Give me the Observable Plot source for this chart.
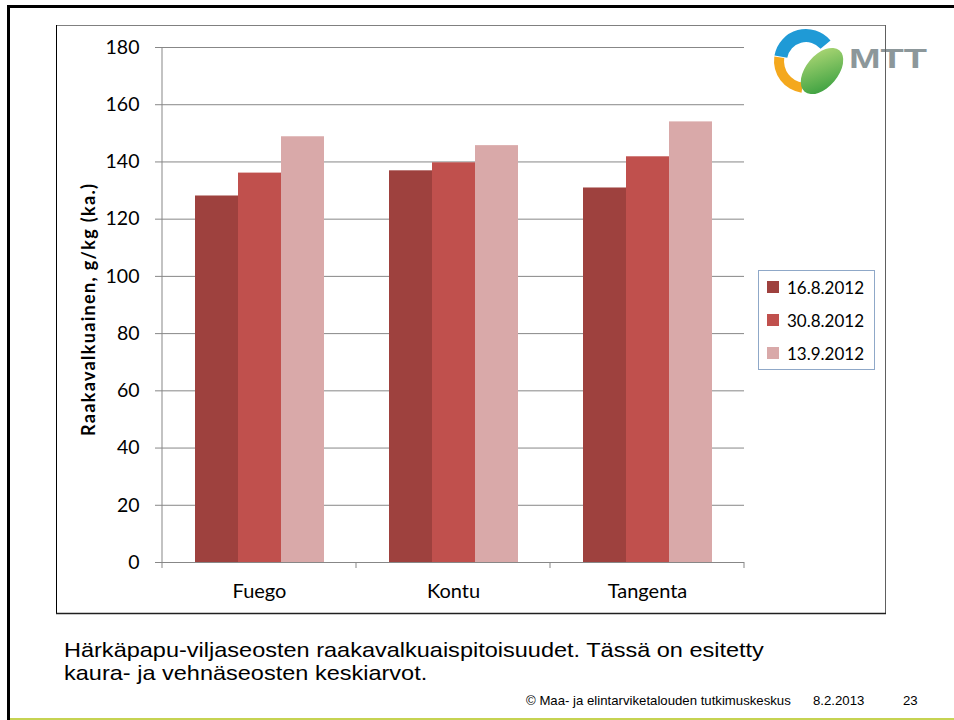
<!DOCTYPE html>
<html>
<head>
<meta charset="utf-8">
<script src="https://cdn.jsdelivr.net/npm/d3@7"></script>
<script src="https://cdn.jsdelivr.net/npm/@observablehq/plot@0.6"></script>
<style>
  html, body { margin: 0; padding: 0; background: #fff; }
  #page { position: relative; width: 954px; height: 720px; overflow: hidden; background: #fff; }
  #chart { position: absolute; left: 56px; top: 25px; width: 829px; height: 589px; }
  #overlay { position: absolute; left: 0; top: 0; pointer-events: none; }
  #legend { position: absolute; left: 758px; top: 270px; width: 117px; height: 100px; box-sizing: border-box;
            border: 1px solid #8FA8C8; background: #fff; font-family: Lato, sans-serif; font-size: 17px; }
  .lg-row { position: absolute; left: 8px; display: flex; align-items: center; height: 20px; }
  .lg-sw { width: 12px; height: 12px; margin-right: 8px; }
</style>
</head>
<body>
<div id="page">
  <div id="chart"></div>
  <div id="legend"></div>
  <svg id="overlay" width="954" height="720"></svg>
</div>
<script>
// ---- data ----
const categories = ["Fuego", "Kontu", "Tangenta"];
const series = ["16.8.2012", "30.8.2012", "13.9.2012"];
const values_16_8 = [128.1, 136.9, 130.9];
const values_30_8 = [136.1, 139.7, 141.8];
const values_13_9 = [148.8, 145.7, 154.0];
const yTicks = [0, 20, 40, 60, 80, 100, 120, 140, 160, 180];
const seriesColors = ["#9E413E", "#C0504D", "#D9A9A9"];

const yTitle = "Raakavalkuainen, g/kg (ka.)";
const captionLines = [
  "Härkäpapu-viljaseosten raakavalkuaispitoisuudet. Tässä on esitetty",
  "kaura- ja vehnäseosten keskiarvot."
];
const footerOrg = "© Maa- ja elintarviketalouden tutkimuskeskus";
const footerDate = "8.2.2013";
const footerPage = "23";

const seriesValues = [values_16_8, values_30_8, values_13_9];
const data = categories.flatMap((c, i) =>
  series.map((s, j) => ({category: c, series: s, value: seriesValues[j][i]}))
);

const gridColor = "#878787";

const chart = Plot.plot({
  width: 829,
  height: 589,
  marginLeft: 105,
  marginRight: 141,
  marginTop: 22,
  marginBottom: 52,
  style: {background: "transparent", fontFamily: "Lato, sans-serif", overflow: "visible"},
  fx: {domain: categories, padding: 0, axis: null, label: null},
  x: {domain: series, paddingInner: 0, paddingOuter: 0.745, axis: null},
  y: {domain: [0, 180], axis: null},
  color: {domain: series, range: seriesColors},
  marks: [
    Plot.ruleY(yTicks.filter(t => t > 0), {stroke: gridColor, strokeWidth: 1}),
    Plot.barY(data, {fx: "category", x: "series", y: "value", fill: "series"}),
    Plot.ruleY([0], {stroke: gridColor, strokeWidth: 1}),
    Plot.axisY({ticks: yTicks, tickSize: 7, tickPadding: 16, fontSize: 19.5, stroke: gridColor, fill: "#000", label: null}),
    Plot.axisFx({anchor: "bottom", tickSize: 0, tickPadding: 21, fontSize: 20, fill: "#000", label: null})
  ]
});
document.getElementById("chart").appendChild(chart);

// y axis line and category boundary ticks, positioned from the plot's scales
const fxS = chart.scale("fx");
const yS = chart.scale("y");
const svgSel = d3.select(chart);
const x0 = fxS.apply(categories[0]);
svgSel.append("line")
  .attr("x1", x0).attr("x2", x0)
  .attr("y1", yS.apply(0)).attr("y2", yS.apply(180))
  .attr("stroke", gridColor);
const bounds = categories.map(c => fxS.apply(c)).concat([fxS.apply(categories[categories.length - 1]) + fxS.bandwidth]);
svgSel.selectAll("line.bt").data(bounds).join("line")
  .attr("class", "bt")
  .attr("x1", d => d).attr("x2", d => d)
  .attr("y1", yS.apply(0)).attr("y2", yS.apply(0) + 6)
  .attr("stroke", gridColor);

// legend
const legend = d3.select("#legend");
series.forEach((s, i) => {
  const row = legend.append("div").attr("class", "lg-row").style("top", (6 + i * 33) + "px");
  row.append("div").attr("class", "lg-sw").style("background", seriesColors[i]);
  row.append("span").text(s);
});

// overlay: slide frame, chart box, logo, texts
const ov = d3.select("#overlay");
// slide frame
ov.append("line").attr("x1", 7).attr("x2", 954).attr("y1", 6.5).attr("y2", 6.5).attr("stroke", "#000").attr("stroke-width", 3);
ov.append("line").attr("x1", 8.5).attr("x2", 8.5).attr("y1", 5).attr("y2", 720).attr("stroke", "#000").attr("stroke-width", 3);
ov.append("line").attr("x1", 10).attr("x2", 954).attr("y1", 719).attr("y2", 719).attr("stroke", "#C6D352").attr("stroke-width", 2);

// logo
const cx = 806, cy = 61;
function annulus(a0, a1, R, r) {
  const rad = a => a * Math.PI / 180;
  const p = (a, rr) => [cx + rr * Math.cos(rad(a)), cy + rr * Math.sin(rad(a))];
  const [ax, ay] = p(a0, R), [bx, by] = p(a1, R), [cx2, cy2] = p(a1, r), [dx, dy] = p(a0, r);
  const large = Math.abs(a1 - a0) > 180 ? 1 : 0;
  return `M${ax},${ay} A${R},${R} 0 ${large} 1 ${bx},${by} L${cx2},${cy2} A${r},${r} 0 ${large} 0 ${dx},${dy} Z`;
}
const defs = ov.append("defs");
const lg = defs.append("linearGradient").attr("id", "leafg").attr("x1", "0").attr("y1", "1").attr("x2", "1").attr("y2", "0");
lg.append("stop").attr("offset", "0").attr("stop-color", "#2E9A3A");
lg.append("stop").attr("offset", "1").attr("stop-color", "#B8DC7A");
ov.append("path").attr("d", annulus(190, 320, 32, 19)).attr("fill", "#1F9AD6");
ov.append("path").attr("d", annulus(98, 188, 32, 22)).attr("fill", "#F4A81D");
ov.append("ellipse").attr("cx", 822).attr("cy", 71).attr("rx", 27).attr("ry", 16)
  .attr("transform", "rotate(-50 822 71)").attr("fill", "url(#leafg)");
ov.append("text").attr("x", 849).attr("y", 68).attr("textLength", 78).attr("lengthAdjust", "spacingAndGlyphs")
  .attr("font-family", "Liberation Sans, Arial, sans-serif").attr("font-weight", "bold").attr("font-size", 28)
  .attr("fill", "#8C979A").text("MTT");

// chart box
ov.append("line").attr("x1", 56).attr("x2", 885.5).attr("y1", 25.5).attr("y2", 25.5).attr("stroke", "#808080");
ov.append("line").attr("x1", 885.5).attr("x2", 885.5).attr("y1", 25).attr("y2", 614).attr("stroke", "#606060");
ov.append("line").attr("x1", 56.5).attr("x2", 56.5).attr("y1", 25).attr("y2", 614).attr("stroke", "#000");
ov.append("line").attr("x1", 56).attr("x2", 886).attr("y1", 613.5).attr("y2", 613.5).attr("stroke", "#202020").attr("stroke-width", 1.5);

// y title
ov.append("text").attr("transform", "translate(95,310) rotate(-90)")
  .attr("text-anchor", "middle")
  .attr("font-family", "Lato, sans-serif").attr("font-weight", "bold").attr("font-size", 18)
  .attr("textLength", 252).attr("lengthAdjust", "spacing")
  .attr("fill", "#000").text(yTitle);

// caption (slightly widened horizontally to match the reference's letter widths)
captionLines.forEach((t, i) => {
  ov.append("text").attr("transform", `translate(64,${657 + i * 23}) scale(1.12,1)`)
    .attr("font-family", "Liberation Sans, Arial, sans-serif").attr("font-size", 21)
    .attr("fill", "#000").text(t);
});
// footer
[[footerOrg, 526], [footerDate, 813], [footerPage, 903]].forEach(([t, x]) => {
  ov.append("text").attr("x", x).attr("y", 705)
    .attr("font-family", "Liberation Sans, Arial, sans-serif").attr("font-size", 13.2)
    .attr("fill", "#000").text(t);
});
</script>
</body>
</html>
